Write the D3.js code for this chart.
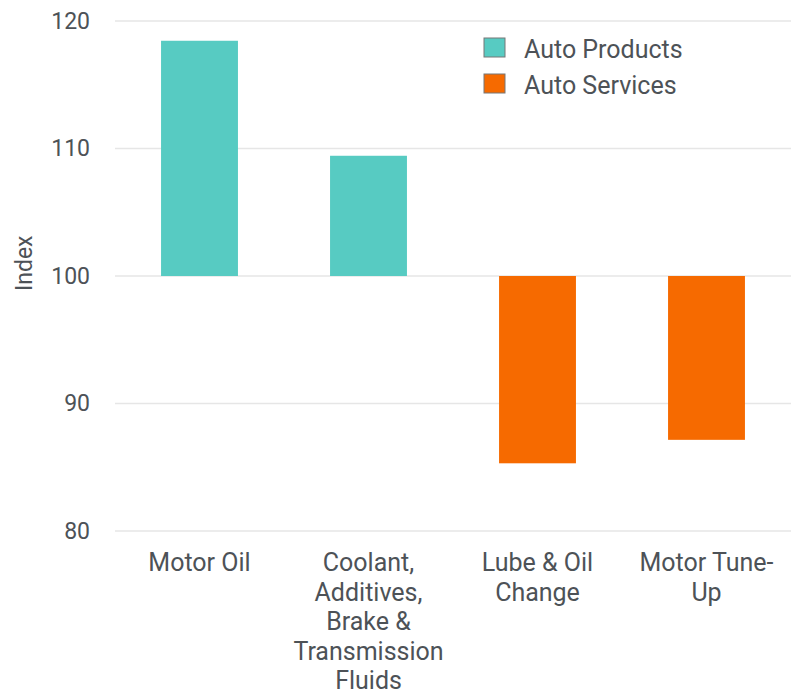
<!DOCTYPE html>
<html>
<head>
<meta charset="utf-8">
<script src="https://cdn.jsdelivr.net/npm/d3@7"></script>
<style>
  body { margin: 0; background: #fff; }
  text { font-family: Roboto, sans-serif; fill: #4d5257; }
</style>
</head>
<body>
<svg id="chart" width="799" height="694"></svg>
<script>
// data
var categories = ["Motor Oil", "Coolant, Additives, Brake & Transmission Fluids", "Lube & Oil Change", "Motor Tune-Up"];
var labelLines = [["Motor Oil"], ["Coolant,", "Additives,", "Brake &", "Transmission", "Fluids"], ["Lube & Oil", "Change"], ["Motor Tune-", "Up"]];
var values = [118.45, 109.43, 85.31, 87.15];
var groups = ["Auto Products", "Auto Products", "Auto Services", "Auto Services"];
var seriesNames = ["Auto Products", "Auto Services"];
var yTicks = [80, 90, 100, 110, 120];
var baseline = 100;

var svg = d3.select("#chart"),
    margin = {top: 21, right: 8, bottom: 163, left: 115},
    width = +svg.attr("width") - margin.left - margin.right,
    height = +svg.attr("height") - margin.top - margin.bottom,
    g = svg.append("g").attr("transform", "translate(" + margin.left + "," + margin.top + ")");

var x = d3.scaleBand()
    .domain(categories)
    .range([0, width])
    .paddingInner(0.545)
    .paddingOuter(0.2725);

var y = d3.scaleLinear()
    .domain([80, 120])
    .range([height, 0]);

var color = d3.scaleOrdinal()
    .domain(seriesNames)
    .range(["#57cbc2", "#f66a00"]);

// gridlines
g.append("g")
  .selectAll("line")
  .data(yTicks)
  .enter().append("line")
    .attr("x1", 0)
    .attr("x2", width)
    .attr("y1", function(d) { return y(d); })
    .attr("y2", function(d) { return y(d); })
    .attr("stroke", "#e6e6e6")
    .attr("stroke-width", 1.5);

// y axis labels
var yAxis = g.append("g")
    .call(d3.axisLeft(y).tickValues(yTicks).tickSize(0).tickPadding(25));
yAxis.select(".domain").remove();
yAxis.selectAll("text")
    .attr("font-size", 23)
    .attr("font-family", null)
    .attr("fill", null);

svg.append("text")
    .attr("transform", "translate(32," + (margin.top + y(101)) + ") rotate(-90)")
    .attr("text-anchor", "middle")
    .attr("font-size", 23)
    .text("Index");

// bars
g.append("g")
  .selectAll("rect")
  .data(categories)
  .enter().append("rect")
    .attr("x", function(d) { return x(d); })
    .attr("width", x.bandwidth())
    .attr("y", function(d, i) { return y(Math.max(values[i], baseline)); })
    .attr("height", function(d, i) { return Math.abs(y(values[i]) - y(baseline)); })
    .attr("fill", function(d, i) { return color(groups[i]); });

// category labels
var cat = g.append("g")
  .selectAll("text")
  .data(categories)
  .enter().append("text")
    .attr("text-anchor", "middle")
    .attr("font-size", 25)
    .attr("transform", function(d) { return "translate(" + (x(d) + x.bandwidth() / 2) + "," + (height + 40) + ")"; });

cat.selectAll("tspan")
  .data(function(d, i) { return labelLines[i]; })
  .enter().append("tspan")
    .attr("x", 0)
    .attr("y", function(d, j) { return j * 29.5; })
    .text(function(d) { return d; });

// legend
var legend = svg.append("g")
  .selectAll("g")
  .data(seriesNames)
  .enter().append("g")
    .attr("transform", function(d, i) { return "translate(484," + (38 + i * 36) + ")"; });

legend.append("rect")
    .attr("width", 21)
    .attr("height", 19)
    .attr("fill", color)
    .attr("stroke", "#777")
    .attr("stroke-width", 1);

legend.append("text")
    .attr("x", 40)
    .attr("y", 11)
    .attr("dy", "0.35em")
    .attr("font-size", 25)
    .text(function(d) { return d; });
</script>
</body>
</html>
